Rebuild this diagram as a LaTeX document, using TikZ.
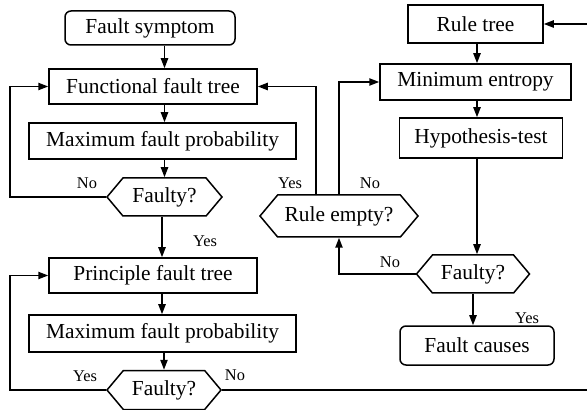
\documentclass[tikz,border=0pt]{standalone}
\usepackage{fontspec}
\setmainfont{Liberation Serif}
\newfontfamily\tnr{Liberation Serif}
\usetikzlibrary{arrows.meta,shapes.symbols}

\tikzset{
  blk/.style={draw,line width=0.75pt,inner sep=1pt,font=\tnr\fontsize{10.7}{12}\selectfont},
  rblk/.style={blk,rounded corners=3pt},
  hexa/.style={blk,signal,signal to=west and east,signal pointer angle=100},
  lbl/.style={inner sep=0.5pt,font=\tnr\fontsize{8.2}{10}\selectfont},
  arr/.style={line width=0.85pt,-{Triangle[length=5pt,width=3.6pt]}},
  ln/.style={line width=0.85pt}
}

\begin{document}
\begin{tikzpicture}[x=0.5pt,y=0.5pt,yscale=-1]
            \useasboundingbox (0,0) rectangle (587,410);
            \coordinate (lft) at (10,0);
            \coordinate (rgt) at (587,0);

            % Left column
            \node[rblk,minimum width=85pt,minimum height=17pt] (sym) at (150,28) {Fault symptom};
            \node[blk,minimum width=104pt,minimum height=17.5pt] (fft) at (153,86.5) {Functional fault tree};
            \node[blk,minimum width=133.5pt,minimum height=18pt] (mfp1) at (162.5,141) {Maximum fault probability};
            \node[hexa,minimum width=57.5pt,minimum height=19pt] (fau1) at (164.5,197) {Faulty?};
            \node[blk,minimum width=104pt,minimum height=17.5pt] (pft) at (153,275.5) {Principle fault tree};
            \node[blk,minimum width=133.5pt,minimum height=18.5pt] (mfp2) at (162.5,333.5) {Maximum fault probability};
            \node[hexa,minimum width=57pt,minimum height=19.5pt] (fau2) at (164,390) {Faulty?};

            % Right column
            \node[blk,minimum width=67.5pt,minimum height=19pt] (rule) at (475.5,24) {Rule tree};
            \node[blk,minimum width=95.5pt,minimum height=18pt] (ment) at (475.5,82) {Minimum entropy};
            \node[blk,minimum width=81.5pt,minimum height=20pt] (hyp) at (481,138) {Hypothesis-test};
            \node[hexa,minimum width=79pt,minimum height=21pt] (rem) at (339,216) {Rule empty?};
            \node[hexa,minimum width=56.5pt,minimum height=19pt] (fau3) at (473,274) {Faulty?};
            \node[rblk,minimum width=77pt,minimum height=19.5pt] (cau) at (477,345.5) {Fault causes};

            %Straight Lines
            \draw[arr] (sym.south -| fau1) -- (fft.north -| fau1);
            \draw[arr] (fft.south -| fau1) -- (mfp1.north -| fau1);
            \draw[arr] (mfp1.south -| fau1) -- (fau1.north);
            \draw[arr] (fau1.south -| 162,0) -- (pft.north -| 162,0);
            \draw[arr] (pft.south -| 162,0) -- (mfp2.north -| 162,0);
            \draw[arr] (mfp2.south -| fau2) -- (fau2.north);
            \draw[arr] (fau1.west) -- (fau1.west -| lft) |- (fft.west);
            \draw[arr] (fau2.west) -- (fau2.west -| lft) |- (pft.west);
            \draw[ln] (fau2.east) -- (fau2.east -| rgt);
            \draw[arr] (rule.east -| rgt) -- (rule.east);
            \draw[arr] (rule.south -| 477,0) -- (ment.north -| 477,0);
            \draw[arr] (ment.south -| 477,0) -- (hyp.north -| 477,0);
            \draw[arr] (hyp.south -| 477,0) -- (fau3.north -| 477,0);
            \draw[arr] (fau3.south) -- (cau.north -| fau3);
            \draw[arr] ([xshift=-11.5pt]rem.north) |- (fft.east);
            \draw[arr] (rem.north) |- (ment.west);
            \draw[arr] (fau3.west) -| (rem.south);

            % Text Node
            \node[lbl] (n1) at (87,183) {No};
            \node[lbl] (y1) at (290,183) {Yes};
            \node[lbl] (n2) at (370,183) {No};
            \node[lbl] (y2) at (205,241) {Yes};
            \node[lbl] (n3) at (390,262) {No};
            \node[lbl] (y3) at (527,318) {Yes};
            \node[lbl] (y4) at (85,376) {Yes};
            \node[lbl] (n4) at (235,375) {No};
\end{tikzpicture}
\end{document}
